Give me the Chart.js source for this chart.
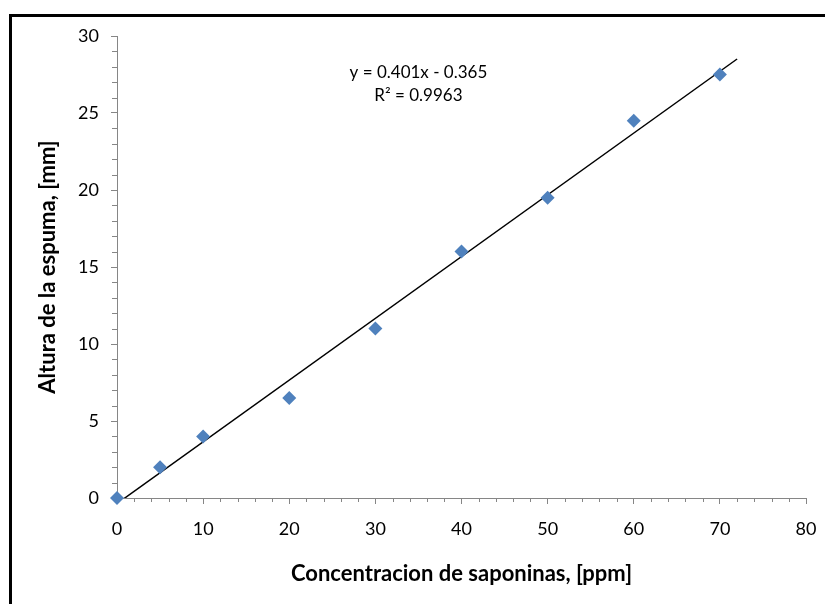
<!DOCTYPE html>
<html>
<head>
<meta charset="utf-8">
<title>Altura de la espuma</title>
<script src="https://cdn.jsdelivr.net/npm/chart.js@4.4.0/dist/chart.umd.min.js"></script>
<style>
  html, body { margin: 0; padding: 0; background: #fff; overflow: hidden; }
  #marco {
    position: absolute; left: 9px; top: 14px; width: 830px; height: 600px;
    border-top: 3px solid #000; border-left: 3px solid #000;
  }
  #contenedor { position: absolute; left: 0; top: 0; width: 825px; height: 604px; }
</style>
</head>
<body>
<div id="marco"></div>
<div id="contenedor"><canvas id="graficoEspuma"></canvas></div>
<script>
// datos medidos
const concentracion = [0, 5, 10, 20, 30, 40, 50, 60, 70];
const altura = [0, 2, 4, 6.5, 11, 16, 19.5, 24.5, 27.5];

// recta de tendencia
const pendiente = 0.401;
const intercepto = -0.365;
const r2 = 0.9963;
const tendenciaX = [0, 72];

const fuente = 'Lato, "Open Sans", sans-serif';
const gris = '#868686';

const puntos = concentracion.map((c, i) => ({ x: c, y: altura[i] }));
const recta = tendenciaX.map(x => ({ x: x, y: pendiente * x + intercepto }));

// marcas menores en los ejes
const marcasMenores = {
  id: 'marcasMenores',
  afterDraw(chart) {
    const { ctx, scales: { x, y } } = chart;
    ctx.save();
    ctx.strokeStyle = gris;
    ctx.lineWidth = 1;
    ctx.beginPath();
    for (let v = 0; v <= 80; v += 2) {
      if (v % 10 === 0) continue;
      const px = Math.round(x.getPixelForValue(v)) + 0.5;
      ctx.moveTo(px, y.bottom);
      ctx.lineTo(px, y.bottom + 4);
    }
    for (let v = 0; v <= 30; v += 1) {
      if (v % 5 === 0) continue;
      const py = Math.round(y.getPixelForValue(v)) + 0.5;
      ctx.moveTo(x.left, py);
      ctx.lineTo(x.left - 5, py);
    }
    ctx.stroke();
    ctx.restore();
  }
};

// ecuación y R² de la tendencia
const ecuacion = {
  id: 'ecuacion',
  afterDatasetsDraw(chart) {
    const { ctx, scales: { x, y } } = chart;
    const signo = intercepto < 0 ? '-' : '+';
    ctx.save();
    ctx.fillStyle = '#000';
    ctx.font = '17px ' + fuente;
    ctx.textAlign = 'center';
    ctx.textBaseline = 'middle';
    const cx = x.getPixelForValue(35);
    ctx.fillText(`y = ${pendiente}x ${signo} ${Math.abs(intercepto)}`, cx, y.getPixelForValue(27.65));
    ctx.fillText(`R² = ${r2}`, cx, y.getPixelForValue(26.15));
    ctx.restore();
  }
};

new Chart(document.getElementById('graficoEspuma').getContext('2d'), {
  type: 'scatter',
  data: {
    datasets: [
      {
        label: 'Altura',
        data: puntos,
        pointStyle: 'rectRot',
        pointRadius: 7,
        pointHoverRadius: 7,
        backgroundColor: '#4F81BD',
        borderColor: '#4F81BD',
        borderWidth: 0,
        clip: false
      },
      {
        label: 'Lineal',
        type: 'line',
        data: recta,
        borderColor: '#000',
        borderWidth: 1.5,
        pointRadius: 0,
        fill: false
      }
    ]
  },
  options: {
    responsive: true,
    maintainAspectRatio: false,
    animation: false,
    layout: { padding: { left: 0, top: 36, right: 19, bottom: 0 } },
    plugins: {
      legend: { display: false },
      tooltip: { enabled: false }
    },
    scales: {
      x: {
        type: 'linear',
        min: 0,
        max: 80,
        afterFit: (scale) => {
          scale.height = 106;
          scale.paddingLeft = 0;
          scale.paddingRight = 0;
        },
        ticks: { stepSize: 10, color: '#000', padding: 14, font: { family: fuente, size: 18 } },
        grid: { drawOnChartArea: false, tickLength: 6, color: gris },
        border: { color: gris, width: 1 },
        title: {
          display: true,
          text: 'Concentracion de saponinas, [ppm]',
          color: '#000',
          font: { family: fuente, size: 22, weight: 'bold' },
          padding: { top: 0, bottom: 17 }
        }
      },
      y: {
        min: 0,
        max: 30,
        afterFit: (scale) => { scale.width = 117; },
        ticks: { stepSize: 5, color: '#000', padding: 12, font: { family: fuente, size: 18 } },
        grid: { drawOnChartArea: false, tickLength: 6, color: gris },
        border: { color: gris, width: 1 },
        title: {
          display: true,
          text: 'Altura de la espuma, [mm]',
          color: '#000',
          font: { family: fuente, size: 22, weight: 'bold' },
          padding: { top: 35, bottom: 0 }
        }
      }
    }
  },
  plugins: [marcasMenores, ecuacion]
});
</script>
</body>
</html>
